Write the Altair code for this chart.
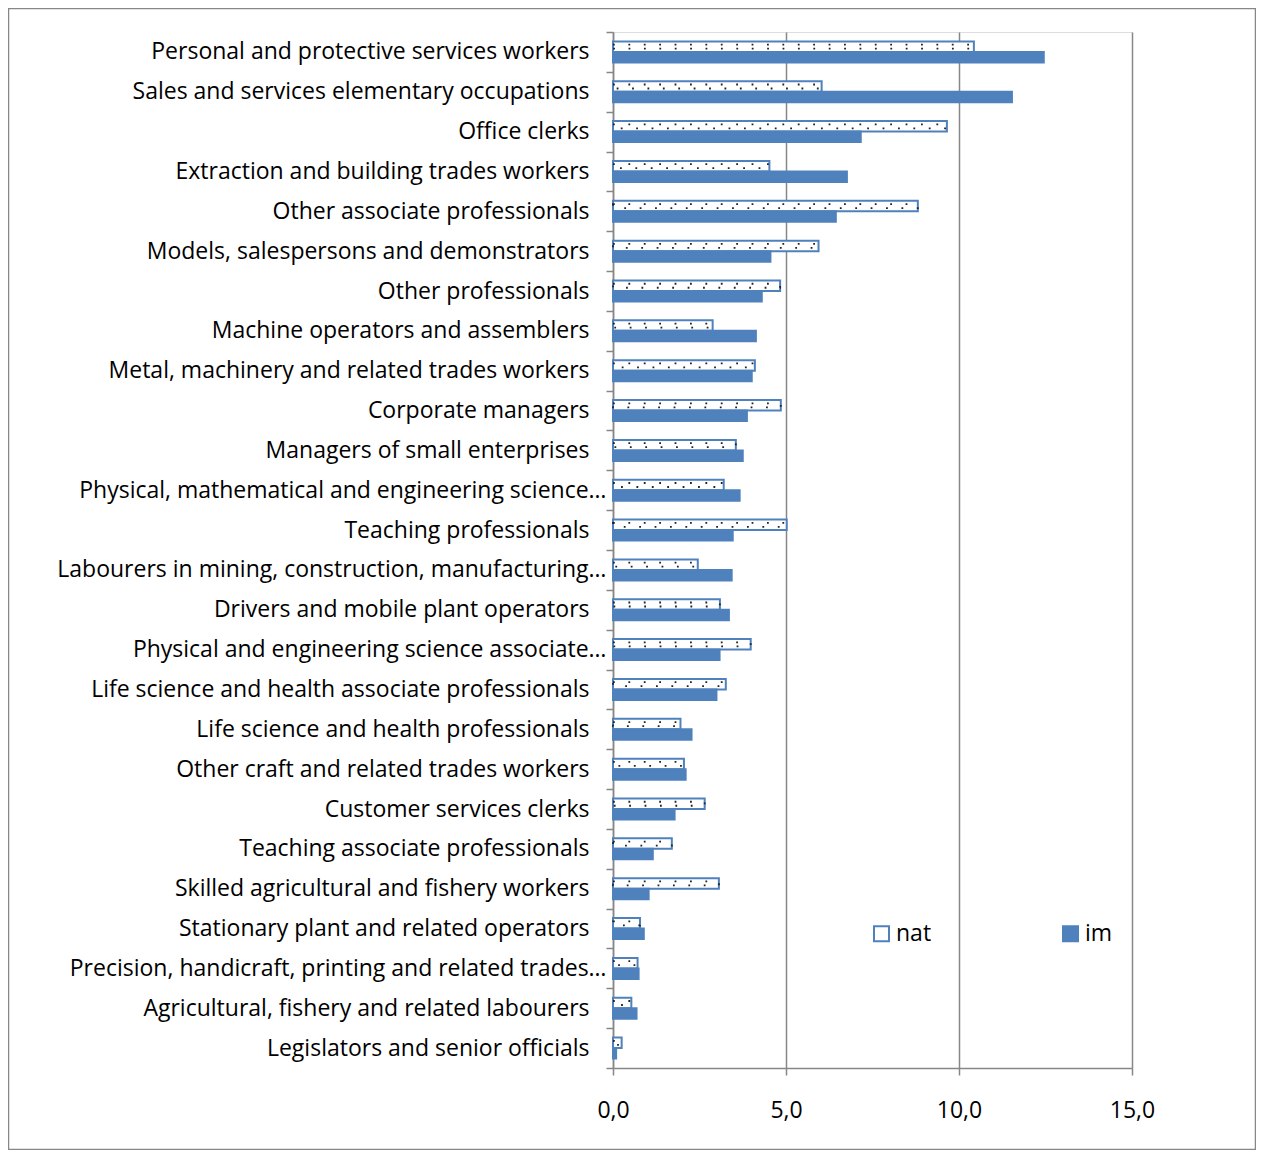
import altair as alt
import pandas as pd

categories = [
    "Personal and protective services workers",
    "Sales and services elementary occupations",
    "Office clerks",
    "Extraction and building trades workers",
    "Other associate professionals",
    "Models, salespersons and demonstrators",
    "Other professionals",
    "Machine operators and assemblers",
    "Metal, machinery and related trades workers",
    "Corporate managers",
    "Managers of small enterprises",
    "Physical, mathematical and engineering science…",
    "Teaching professionals",
    "Labourers in mining, construction, manufacturing…",
    "Drivers and mobile plant operators",
    "Physical and engineering science associate…",
    "Life science and health associate professionals",
    "Life science and health professionals",
    "Other craft and related trades workers",
    "Customer services clerks",
    "Teaching associate professionals",
    "Skilled agricultural and fishery workers",
    "Stationary plant and related operators",
    "Precision, handicraft, printing and related trades…",
    "Agricultural, fishery and related labourers",
    "Legislators and senior officials",
]
nat = [10.43, 6.03, 9.65, 4.52, 8.81, 5.94, 4.83, 2.88, 4.10, 4.85, 3.55, 3.20,
       5.02, 2.45, 3.09, 3.98, 3.26, 1.95, 2.05, 2.65, 1.70, 3.06, 0.78, 0.71,
       0.53, 0.25]
im = [12.45, 11.53, 7.16, 6.76, 6.44, 4.55, 4.30, 4.13, 4.01, 3.87, 3.75, 3.66,
      3.46, 3.43, 3.35, 3.08, 2.99, 2.27, 2.10, 1.78, 1.15, 1.03, 0.89, 0.74,
      0.68, 0.09]
series = ["nat", "im"]
x_ticks = [0, 5, 10, 15]

rows = []
for c, a, b in zip(categories, nat, im):
    rows.append({"cat": c, "series": "nat", "value": a})
    rows.append({"cat": c, "series": "im", "value": b})
df = pd.DataFrame(rows)
df_nat = df[df["series"] == "nat"]

FONT = "Open Sans"
FS = 23
BLUE = "#4F81BD"
GRAY = "#878787"

y_scale = alt.Scale(paddingInner=0, paddingOuter=0)
off_scale = alt.Scale(domain=series, paddingInner=0, paddingOuter=0.8975)

y_enc = alt.Y(
    "cat:N",
    sort=categories,
    scale=y_scale,
    axis=alt.Axis(
        title=None,
        labelFont=FONT,
        labelFontSize=FS,
        labelColor="#000000",
        labelLimit=700,
        labelPadding={"condition": {"test": "indexof(datum.label, '…') >= 0", "value": 0}, "value": 17},
        tickSize=7,
        tickWidth=1.5,
        tickColor=GRAY,
        tickBand="extent",
        domainColor=GRAY,
        domainWidth=1.5,
        grid=False,
    ),
)
x_enc = alt.X(
    "value:Q",
    scale=alt.Scale(domain=[0, 15], nice=False, zero=True),
    axis=alt.Axis(
        title=None,
        values=x_ticks,
        labelExpr="replace(format(datum.value, '.1f'), '.', ',')",
        labelFont=FONT,
        labelFontSize=FS,
        labelColor="#000000",
        labelFlush=False,
        labelPadding=24,
        labelBaseline="top",
        tickSize=7,
        tickWidth=1.5,
        tickColor=GRAY,
        domainColor=GRAY,
        domainWidth=1.5,
        grid=True,
        gridColor=GRAY,
        gridWidth=1.5,
    ),
)

border = alt.Chart(pd.DataFrame({"a": [0]})).mark_rect(
    fill="transparent", stroke=GRAY, strokeWidth=1.5
).encode(
    x=alt.value(-604.5), x2=alt.value(642.5), y=alt.value(-23.5), y2=alt.value(1117.5)
)

bars = alt.Chart(df).mark_bar(stroke=BLUE, strokeWidth=2).encode(
    y=y_enc,
    x=x_enc,
    yOffset=alt.YOffset("series:N", sort=series, scale=off_scale),
    fill=alt.Fill(
        "series:N",
        sort=series,
        scale=alt.Scale(domain=series, range=["#ffffff", BLUE]),
        legend=alt.Legend(
            title=None,
            orient="none",
            legendX=257,
            legendY=890,
            direction="horizontal",
            symbolType="square",
            symbolSize=225,
            symbolStrokeColor=BLUE,
            symbolStrokeWidth=2,
            labelFont=FONT,
            labelFontSize=FS,
            labelColor="#000000",
            labelOffset=3,
            columnPadding=127,
            padding=0,
        ),
    ),
)

dots = alt.Chart(df_nat).mark_bar(
    size=4, fill="transparent", stroke="#222222", strokeWidth=1.8, strokeDash=[1.8, 13.6]
).encode(
    y=alt.Y("cat:N", sort=categories),
    x=alt.X("value:Q"),
    yOffset=alt.YOffset("series:N", sort=series),
)

chart = alt.layer(border, bars, dots).properties(
    width=519,
    height=1036,
    autosize=alt.AutoSizeParams(type="none"),
    padding={"left": 605, "top": 24, "right": 124, "bottom": 82},
).configure_view(stroke=None).configure(background="#ffffff")

chart.save("out.html", embed_options={"renderer": "svg", "actions": False})
